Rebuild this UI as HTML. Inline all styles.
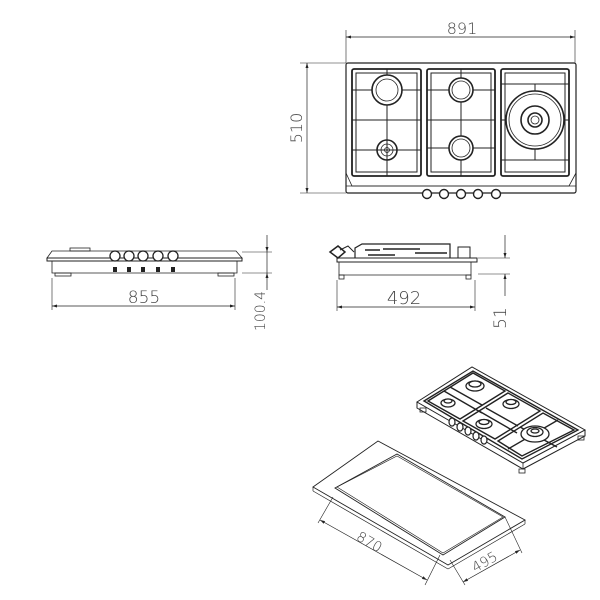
<!DOCTYPE html>
<html><head><meta charset="utf-8"><style>html,body{margin:0;padding:0;background:#fff}svg{display:block}text{font-family:"DejaVu Sans","Liberation Sans",sans-serif;font-stretch:condensed;fill:#444;font-weight:300}</style></head>
<body>
<svg width="600" height="600" viewBox="0 0 600 600" xmlns="http://www.w3.org/2000/svg">
<defs>
<marker id="a" viewBox="0 0 10 10" refX="10" refY="5" markerWidth="7" markerHeight="5" orient="auto-start-reverse" markerUnits="userSpaceOnUse"><path d="M0,2 L10,5 L0,8z" fill="#222"/></marker>
</defs>
<g stroke="#222" fill="none" stroke-width="1">
<!-- TOP VIEW -->
<line x1="346" y1="30" x2="346" y2="63" stroke-width="0.6"/>
<line x1="575" y1="30" x2="575" y2="63" stroke-width="0.6"/>
<line x1="346" y1="37" x2="575" y2="37" marker-start="url(#a)" marker-end="url(#a)" stroke-width="0.7"/>
<line x1="300" y1="63" x2="346" y2="63" stroke-width="0.6"/>
<line x1="300" y1="193" x2="346" y2="193" stroke-width="0.6"/>
<line x1="307" y1="63" x2="307" y2="193" marker-start="url(#a)" marker-end="url(#a)" stroke-width="0.7"/>
<rect x="346" y="63" width="230" height="130" rx="2" stroke-width="1.2"/>
<path d="M346,173 L352,186 L569,186 L576,173" stroke-width="0.8"/>
<line x1="346" y1="186" x2="576" y2="186" stroke-width="0.8"/>
<g stroke-width="1.8">
<rect x="352" y="69" width="69" height="107" rx="2"/>
<rect x="427" y="69" width="68" height="107" rx="2"/>
<rect x="501" y="69" width="68" height="107" rx="2"/>
</g>
<g stroke-width="1">
<rect x="356" y="73" width="61" height="99"/>
<rect x="431" y="73" width="60" height="99"/>
<rect x="505" y="73" width="60" height="99"/>
<line x1="352" y1="90" x2="421" y2="90"/><line x1="352" y1="120" x2="421" y2="120"/><line x1="352" y1="150" x2="421" y2="150"/>
<line x1="387" y1="69" x2="387" y2="176"/>
<line x1="427" y1="90" x2="495" y2="90"/><line x1="427" y1="120" x2="495" y2="120"/><line x1="427" y1="148" x2="495" y2="148"/>
<line x1="461" y1="69" x2="461" y2="176"/>
<line x1="501" y1="84" x2="569" y2="84"/><line x1="501" y1="160" x2="569" y2="160"/>
<line x1="535" y1="84" x2="535" y2="160"/><line x1="501" y1="120" x2="569" y2="120"/>
</g>
<g fill="#fff" stroke-width="1.6">
<circle cx="387" cy="90" r="15"/><circle cx="387" cy="90" r="11" stroke-width="0.8"/>
<circle cx="461" cy="90" r="12"/><circle cx="461" cy="90" r="9" stroke-width="0.8"/>
<circle cx="461" cy="148" r="12"/><circle cx="461" cy="148" r="9" stroke-width="0.8"/>
<circle cx="387" cy="150" r="10"/><circle cx="387" cy="150" r="6" stroke-width="0.8"/><circle cx="387" cy="150" r="2.5" stroke-width="0.8"/>
<circle cx="535" cy="120" r="29"/><circle cx="535" cy="120" r="26" stroke-width="0.8"/>
<circle cx="535" cy="120" r="14"/><circle cx="535" cy="120" r="7"/><circle cx="535" cy="120" r="4" stroke-width="0.8"/>
</g>
<g stroke-width="1"><line x1="373" y1="150" x2="401" y2="150"/><line x1="387" y1="136" x2="387" y2="164"/></g>
<g fill="#fff" stroke-width="1.4">
<circle cx="427" cy="194" r="4.5"/><circle cx="444" cy="194" r="4.5"/><circle cx="461" cy="194" r="4.5"/><circle cx="478" cy="194" r="4.5"/><circle cx="496" cy="194" r="4.5"/>
</g>

<!-- FRONT VIEW -->
<path d="M47,258 L52,251 L236,251 L242,258 Z" stroke-width="0.8"/>
<rect x="47" y="258" width="195" height="3" stroke-width="1"/>
<path d="M52,261 L52,273 L237,273 L237,261" stroke-width="0.8"/>
<rect x="70" y="248" width="20" height="3" stroke-width="0.8"/>
<rect x="55" y="273" width="16" height="3" stroke-width="0.8"/><rect x="218" y="273" width="16" height="3" stroke-width="0.8"/>
<g fill="#fff" stroke-width="1.3">
<circle cx="115" cy="256" r="5"/><circle cx="129" cy="256" r="5"/><circle cx="143" cy="256" r="5"/><circle cx="158" cy="256" r="5"/><circle cx="173" cy="256" r="5"/>
</g>
<g fill="#222" stroke="none">
<rect x="113" y="267" width="4" height="5"/><rect x="127" y="267" width="4" height="5"/><rect x="141" y="267" width="4" height="5"/><rect x="156" y="267" width="4" height="5"/><rect x="171" y="267" width="4" height="5"/>
</g>
<line x1="52" y1="278" x2="52" y2="310" stroke-width="0.6"/><line x1="235" y1="278" x2="235" y2="310" stroke-width="0.6"/>
<line x1="52" y1="306" x2="235" y2="306" marker-start="url(#a)" marker-end="url(#a)" stroke-width="0.7"/>
<line x1="242" y1="252" x2="272" y2="252" stroke-width="0.6"/><line x1="242" y1="273" x2="272" y2="273" stroke-width="0.6"/>
<line x1="267" y1="235" x2="267" y2="252" marker-end="url(#a)" stroke-width="0.7"/>
<line x1="267" y1="290" x2="267" y2="273" marker-end="url(#a)" stroke-width="0.7"/>
<line x1="267" y1="252" x2="267" y2="273" stroke-width="0.7"/>

<!-- SIDE VIEW -->
<rect x="337" y="258" width="140" height="4" stroke-width="1"/>
<path d="M339,262 L339,275 L471,275 L471,262" stroke-width="0.8"/>
<rect x="339" y="275" width="5" height="4" stroke-width="0.8"/><rect x="466" y="275" width="5" height="4" stroke-width="0.8"/>
<path d="M355,258 L355,248 L362,244 L450,244 L450,258" stroke-width="1.2"/>
<path d="M365,250 L380,250 M383,249 L420,249 M415,253 L447,253 M368,255 L395,255" stroke-width="1.4"/>
<rect x="458" y="247" width="12" height="11" stroke-width="1"/>
<path d="M330,252 L338,246 L345,252 L338,258 Z" stroke-width="1.5"/>
<path d="M340,250 L348,246 L354,252" stroke-width="1"/>
<line x1="337" y1="280" x2="337" y2="311" stroke-width="0.6"/><line x1="475" y1="280" x2="475" y2="311" stroke-width="0.6"/>
<line x1="337" y1="307" x2="475" y2="307" marker-start="url(#a)" marker-end="url(#a)" stroke-width="0.7"/>
<line x1="478" y1="258" x2="510" y2="258" stroke-width="0.6"/><line x1="478" y1="274" x2="510" y2="274" stroke-width="0.6"/>
<line x1="505" y1="235" x2="505" y2="258" marker-end="url(#a)" stroke-width="0.7"/>
<line x1="505" y1="296" x2="505" y2="274" marker-end="url(#a)" stroke-width="0.7"/>

<!-- ISO CUTOUT -->
<polygon points="313,487 378,441 525,520 448,565" stroke-width="0.9"/>
<polygon points="335,488 397,454 505,517 443,555" stroke-width="0.9"/>
<polygon points="337,487 397,456 503,517 443,553" stroke-width="0.6"/>
<line x1="313" y1="487" x2="313" y2="491" stroke-width="0.7"/>
<line x1="313" y1="491" x2="448" y2="569" stroke-width="0.7"/>
<line x1="448" y1="569" x2="525" y2="524" stroke-width="0.7"/>
<line x1="525" y1="520" x2="525" y2="524" stroke-width="0.7"/>
<line x1="333" y1="497" x2="318" y2="523" stroke-width="0.6"/>
<line x1="440" y1="555" x2="425" y2="585" stroke-width="0.6"/>
<line x1="320" y1="520" x2="427" y2="580" marker-start="url(#a)" marker-end="url(#a)" stroke-width="0.7"/>
<line x1="450" y1="560" x2="465" y2="585" stroke-width="0.6"/>
<line x1="505" y1="517" x2="522" y2="553" stroke-width="0.6"/>
<line x1="463" y1="582" x2="520" y2="550" marker-start="url(#a)" marker-end="url(#a)" stroke-width="0.7"/>

<!-- ISO HOB -->
<polygon points="417,402 472,367 585,430 523,463" stroke-width="1"/>
<path d="M417,402 L417,408 L523,469 L585,436 L585,430" stroke-width="1"/>
<line x1="523" y1="463" x2="523" y2="469" stroke-width="0.8"/>
<rect x="420" y="408" width="6" height="4" stroke-width="0.8"/><rect x="519" y="469" width="6" height="4" stroke-width="0.8"/><rect x="578" y="436" width="6" height="4" stroke-width="0.8"/>
<g stroke-width="1.4">
<polygon points="424,401 473,371 578,430 522,459"/>
<polygon points="428,401 473,373 505,391 460,419"/>
<polygon points="463,421 508,393 540,411 495,439"/>
<polygon points="498,441 543,413 574,430 522,456"/>
<line x1="444" y1="391" x2="482" y2="413"/>
<line x1="479" y1="411" x2="517" y2="433"/>
<line x1="450" y1="387" x2="482" y2="405"/>
<line x1="486" y1="408" x2="518" y2="426"/>
<line x1="508" y1="449" x2="558" y2="420"/>
<line x1="520" y1="427" x2="557" y2="447"/>
</g>
<g fill="#fff" stroke-width="1.3">
<ellipse cx="475" cy="386" rx="9" ry="5"/><ellipse cx="475" cy="384" rx="6" ry="3"/>
<ellipse cx="448" cy="403" rx="7" ry="4"/><ellipse cx="448" cy="401" rx="4" ry="2"/>
<ellipse cx="511" cy="404" rx="8" ry="4.5"/><ellipse cx="511" cy="402" rx="5" ry="2.5"/>
<ellipse cx="484" cy="424" rx="8" ry="4.5"/><ellipse cx="484" cy="422" rx="5" ry="2.5"/>
<ellipse cx="535" cy="434" rx="14" ry="8"/><ellipse cx="535" cy="432" rx="8" ry="4.5"/><ellipse cx="535" cy="431" rx="4" ry="2"/>
</g>
<g fill="#fff" stroke-width="1.2">
<ellipse cx="452" cy="422" rx="3" ry="4"/><ellipse cx="460" cy="427" rx="3" ry="4"/><ellipse cx="468" cy="431" rx="3" ry="4"/><ellipse cx="476" cy="436" rx="3" ry="4"/><ellipse cx="484" cy="440" rx="3" ry="4"/>
</g>
</g>
<g>
<text x="462" y="34" font-size="16" text-anchor="middle">891</text>
<text x="0" y="0" font-size="16" text-anchor="middle" transform="translate(302,128) rotate(-90)">510</text>
<text x="144" y="303" font-size="17" text-anchor="middle">855</text>
<text x="0" y="0" font-size="14" text-anchor="middle" transform="translate(265,311) rotate(-90)">100.4</text>
<text x="404" y="304" font-size="18" text-anchor="middle">492</text>
<text x="0" y="0" font-size="17" text-anchor="middle" transform="translate(506,318) rotate(-90)">51</text>
<text x="0" y="0" font-size="14" text-anchor="middle" transform="translate(367,546) rotate(30)">870</text>
<text x="0" y="0" font-size="14" text-anchor="middle" transform="translate(487,566) rotate(-30)">495</text>
</g>
</svg>
</body></html>
